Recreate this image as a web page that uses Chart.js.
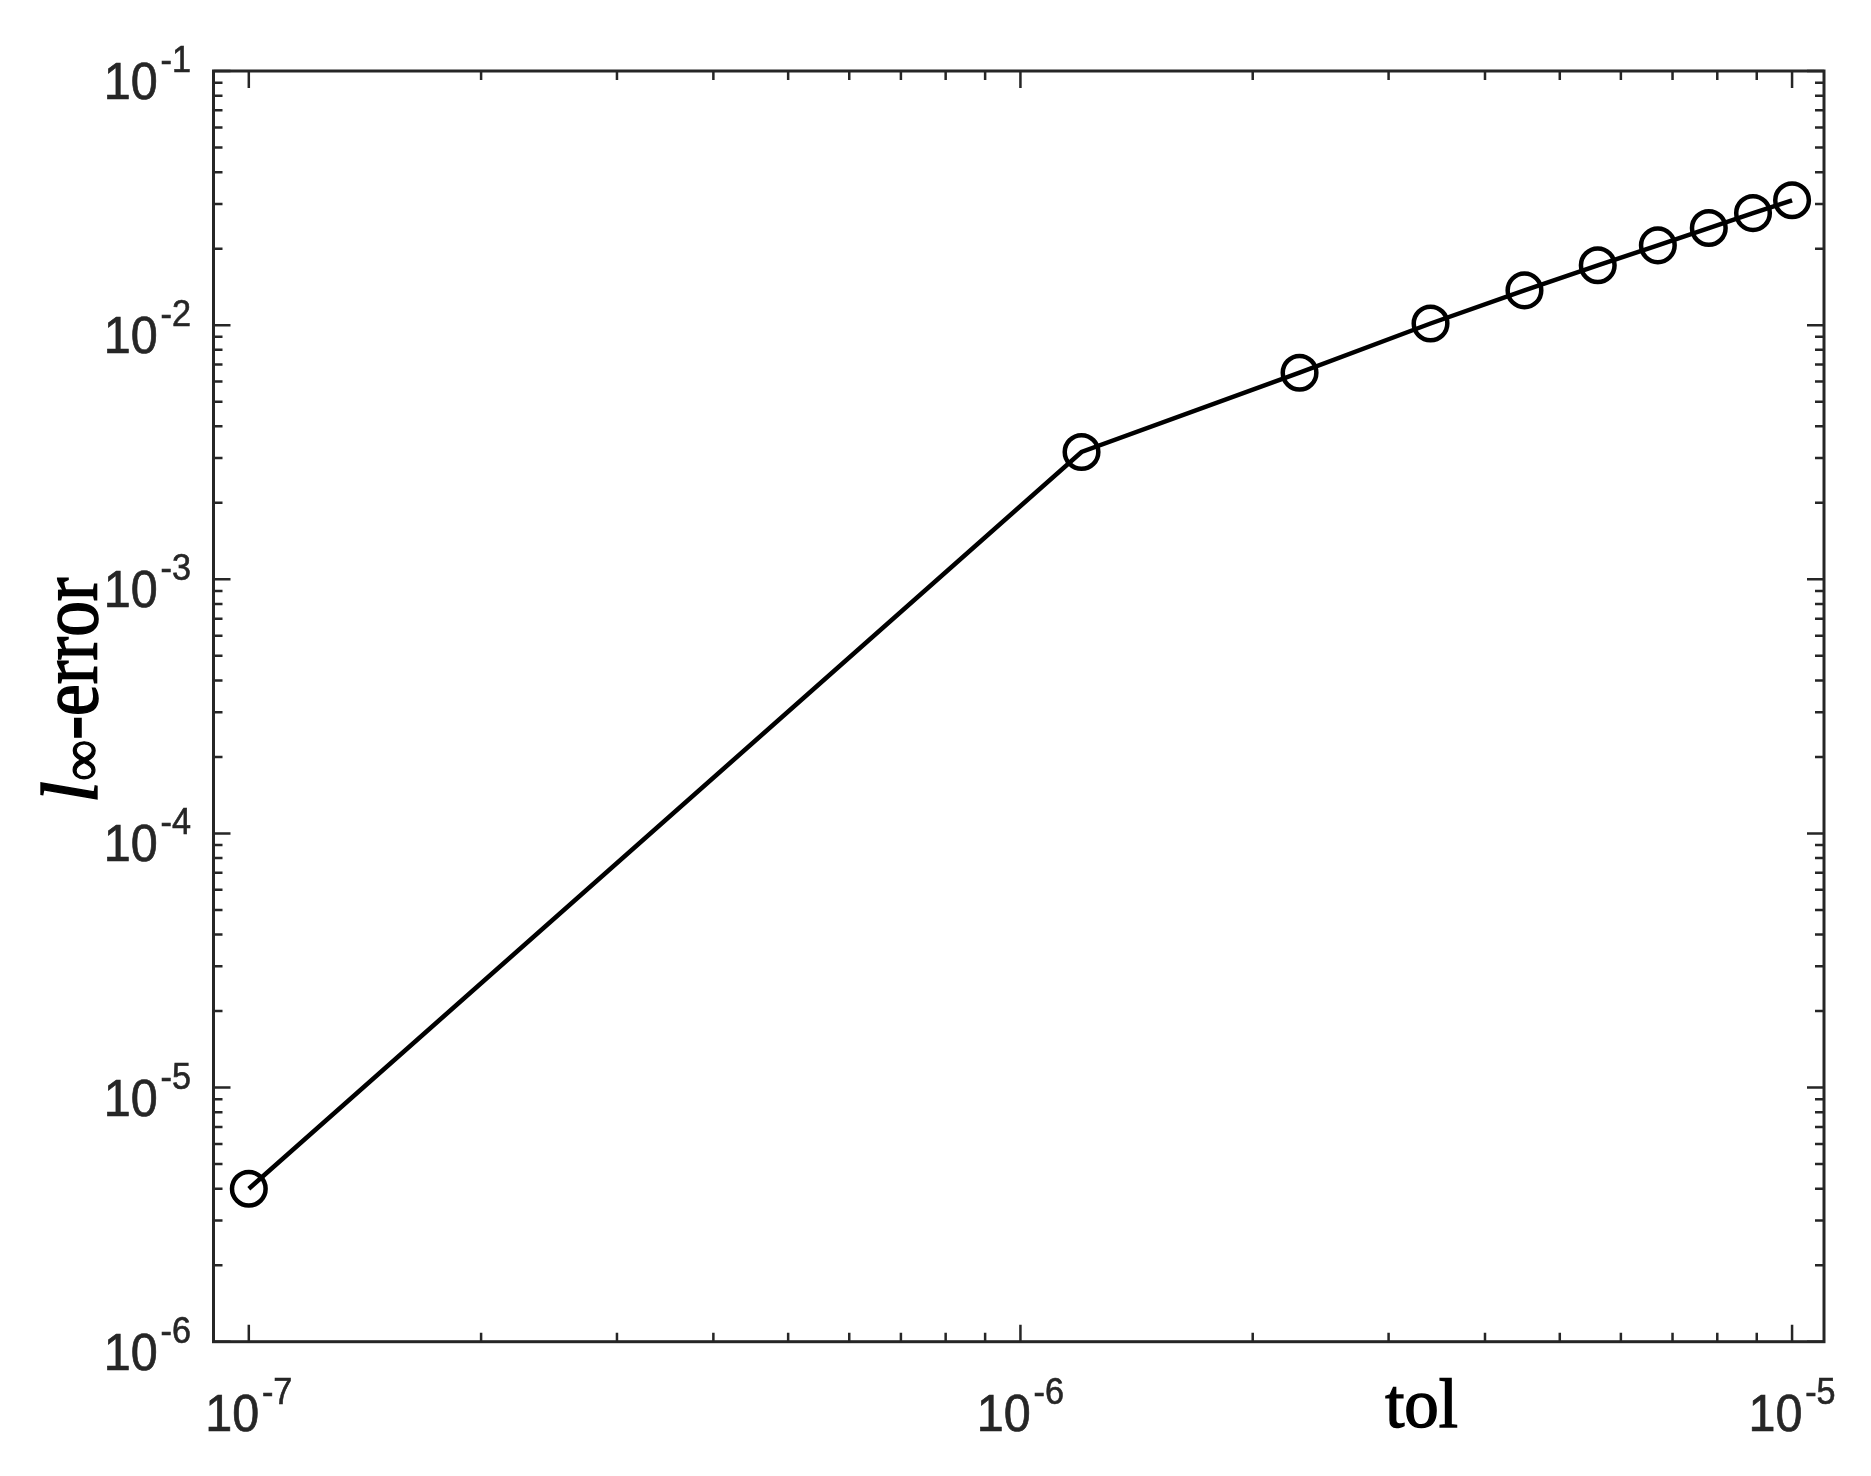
<!DOCTYPE html>
<html>
<head>
<meta charset="utf-8">
<title>l-inf error vs tol</title>
<script src="https://cdn.jsdelivr.net/npm/chart.js@4.4.1/dist/chart.umd.min.js"></script>
<style>
  html, body { margin: 0; padding: 0; background: #fff; }
  #wrap { width: 1871px; height: 1476px; }
</style>
</head>
<body>
<div id="wrap"><canvas id="c" width="1871" height="1476"></canvas></div>
<script>
// data (log-log)
const tolValues = [1e-7, 1.2e-6, 2.3e-6, 3.4e-6, 4.5e-6, 5.6e-6, 6.7e-6, 7.8e-6, 8.9e-6, 1e-5];
const errValues = [4.0e-6, 3.17e-3, 6.5e-3, 1.015e-2, 1.37e-2, 1.72e-2, 2.06e-2, 2.41e-2, 2.76e-2, 3.10e-2];

// axis limits and labelled decades
const xRange = [9e-8, 1.1e-5];
const yRange = [1e-6, 1e-1];
const xTickExps = [-7, -6, -5];
const yTickExps = [-6, -5, -4, -3, -2, -1];
const xTitleAt = 3.31e-6; // 'tol' sits here along the x axis, not centred

(function(){
  const AXIS = '#262626';
  const SANS = '"Liberation Sans", Arial, Helvetica, sans-serif';
  const SERIF = '"Liberation Serif", "Times New Roman", serif';

  function logTicks(min, max){
    const out = [];
    const e0 = Math.floor(Math.log10(min)), e1 = Math.ceil(Math.log10(max));
    for(let e = e0; e <= e1; e++){
      for(let m = 1; m <= 9; m++){
        const v = m * Math.pow(10, e);
        if(v >= min * 0.9999 && v <= max * 1.0001) out.push({ v, major: m === 1 });
      }
    }
    return out;
  }

  // fill plus a hairline stroke, the exported figure text is a bit heavier
  function heavyText(ctx, txt, x, y, w){
    ctx.fillText(txt, x, y);
    if(w){ ctx.lineWidth = w; ctx.strokeText(txt, x, y); }
  }

  // "10" with a raised exponent, MATLAB tex style
  function drawPow(ctx, exp, x, y, align){
    const sx = 0.95;
    const sup = String(exp);
    ctx.save();
    ctx.font = '51px ' + SANS;
    const wb = ctx.measureText('10').width;
    ctx.font = '36px ' + SANS;
    const ws = ctx.measureText(sup).width;
    const gap = 3;
    const total = (wb + gap + ws) * sx;
    const x0 = align === 'right' ? x - total : x - total / 2;
    ctx.translate(x0, y);
    ctx.scale(sx, 1);
    ctx.fillStyle = AXIS;
    ctx.strokeStyle = AXIS;
    ctx.textAlign = 'left';
    ctx.textBaseline = 'alphabetic';
    ctx.font = '51px ' + SANS;
    heavyText(ctx, '10', 0, 0, 0.7);
    ctx.font = '36px ' + SANS;
    heavyText(ctx, sup, wb + gap, -27, 0.6);
    ctx.restore();
  }

  const matlabAxes = {
    id: 'matlabAxes',
    afterDraw(chart){
      const ctx = chart.ctx;
      const a = chart.chartArea;
      const xs = chart.scales.x, ys = chart.scales.y;
      const majorLen = 17, minorLen = 9;

      ctx.save();
      ctx.strokeStyle = AXIS;
      ctx.lineWidth = 2.5;
      ctx.lineCap = 'butt';

      // x ticks, bottom and top, pointing inward
      logTicks(xRange[0], xRange[1]).forEach(t => {
        const px = xs.getPixelForValue(t.v);
        const len = t.major ? majorLen : minorLen;
        ctx.beginPath();
        ctx.moveTo(px, a.bottom); ctx.lineTo(px, a.bottom - len);
        ctx.moveTo(px, a.top); ctx.lineTo(px, a.top + len);
        ctx.stroke();
      });
      // y ticks, left and right
      logTicks(yRange[0], yRange[1]).forEach(t => {
        const py = ys.getPixelForValue(t.v);
        const len = t.major ? majorLen : minorLen;
        ctx.beginPath();
        ctx.moveTo(a.left, py); ctx.lineTo(a.left + len, py);
        ctx.moveTo(a.right, py); ctx.lineTo(a.right - len, py);
        ctx.stroke();
      });

      // box
      ctx.lineWidth = 3;
      ctx.lineJoin = 'miter';
      ctx.strokeRect(a.left, a.top, a.right - a.left, a.bottom - a.top);
      ctx.restore();

      // tick labels
      xTickExps.forEach(e => {
        drawPow(ctx, e, xs.getPixelForValue(Math.pow(10, e)), a.bottom + 89, 'center');
      });
      yTickExps.forEach(e => {
        drawPow(ctx, e, a.left - 22.5, ys.getPixelForValue(Math.pow(10, e)) + 28, 'right');
      });

      // x title
      ctx.save();
      ctx.fillStyle = '#000';
      ctx.strokeStyle = '#000';
      ctx.font = '69px ' + SERIF;
      ctx.textAlign = 'center';
      ctx.textBaseline = 'alphabetic';
      heavyText(ctx, 'tol', xs.getPixelForValue(xTitleAt), a.bottom + 85, 1.4);
      ctx.restore();

      // y title: italic l, subscript infinity, then "-error", rotated
      ctx.save();
      ctx.fillStyle = '#000';
      ctx.strokeStyle = '#000';
      ctx.textAlign = 'left';
      ctx.textBaseline = 'alphabetic';
      const parts = [
        { t: 'l', font: 'italic 80px ' + SERIF, dy: 0, sx: 1, w: 1.4 },
        { t: '\u221E', font: '58px ' + SERIF, dy: 4, sx: 1, w: 1.2 },
        { t: '-error', font: '82px ' + SERIF, dy: 0, sx: 0.87, w: 1.6 }
      ];
      let total = 0;
      parts.forEach(p => { ctx.font = p.font; p.adv = ctx.measureText(p.t).width * p.sx; total += p.adv; });
      const mid = (a.top + a.bottom) / 2 - 16;
      ctx.translate(97, mid + total / 2);
      ctx.rotate(-Math.PI / 2);
      let u = 0;
      parts.forEach(p => {
        ctx.save();
        ctx.font = p.font;
        ctx.translate(u, p.dy);
        ctx.scale(p.sx, 1);
        heavyText(ctx, p.t, 0, 0, p.w);
        ctx.restore();
        u += p.adv;
      });
      ctx.restore();
    }
  };

  const points = tolValues.map((x, i) => ({ x, y: errValues[i] }));

  new Chart(document.getElementById('c'), {
    type: 'line',
    data: {
      datasets: [{
        data: points,
        borderColor: '#000',
        borderWidth: 4.5,
        tension: 0,
        fill: false,
        pointStyle: 'circle',
        pointRadius: 16.8,
        pointBorderWidth: 4.5,
        pointBorderColor: '#000',
        pointBackgroundColor: 'rgba(0,0,0,0)',
        clip: false
      }]
    },
    options: {
      responsive: false,
      animation: false,
      events: [],
      layout: { padding: { left: 213.5, right: 47, top: 71, bottom: 134.3 } },
      plugins: { legend: { display: false }, tooltip: { enabled: false } },
      scales: {
        x: { type: 'logarithmic', min: xRange[0], max: xRange[1], display: false },
        y: { type: 'logarithmic', min: yRange[0], max: yRange[1], display: false }
      }
    },
    plugins: [matlabAxes]
  });
})();
</script>
</body>
</html>
